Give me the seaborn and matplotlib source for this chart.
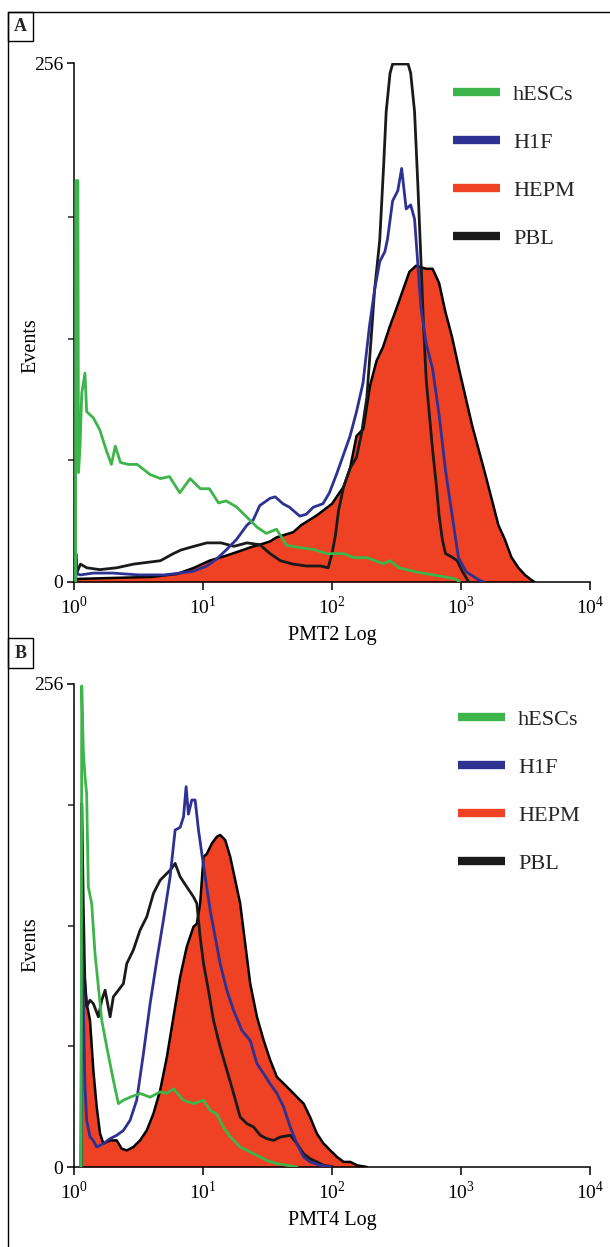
import numpy as np
import pandas as pd
import seaborn as sns
import matplotlib.pyplot as plt
from matplotlib.lines import Line2D
from matplotlib.patches import Rectangle

# Histogram traces: channel position as log10(intensity), value = events
# Panel A (PMT2)
a_hesc_log = [0.012, 0.015, 0.03, 0.035, 0.047, 0.06, 0.085, 0.098, 0.15, 0.2, 0.25, 0.29, 0.32, 0.36,
              0.42, 0.49, 0.59, 0.67, 0.74, 0.82, 0.9, 0.98, 1.05, 1.12, 1.18, 1.26, 1.34, 1.42, 1.49,
              1.57, 1.65, 1.75, 1.86, 1.96, 2.09, 2.17, 2.27, 2.40, 2.45, 2.52, 2.65, 2.78, 2.88, 2.96, 2.99]
a_hesc_cnt = [0, 198, 198, 54, 67, 93, 103, 84, 81, 75, 65, 58, 67, 59,
              58, 58, 53, 51, 52, 44, 51, 46, 46, 39, 40, 37, 32, 27, 24,
              26, 18, 17, 16, 14, 14, 12, 12, 9, 10.5, 7, 5, 3.5, 2.5, 1.4, 0]

a_h1f_log = [0.012, 0.015, 0.025, 0.05, 0.15, 0.3, 0.5, 0.7, 0.82, 0.925, 1.03, 1.106, 1.18, 1.26,
             1.34, 1.39, 1.44, 1.52, 1.56, 1.62, 1.67, 1.75, 1.80, 1.855, 1.93, 1.98, 2.04, 2.09,
             2.14, 2.19, 2.24, 2.29, 2.33, 2.37, 2.41, 2.43, 2.47, 2.51, 2.54, 2.575, 2.61, 2.64,
             2.66, 2.69, 2.73, 2.78, 2.83, 2.88, 2.93, 2.98, 3.04, 3.09, 3.14, 3.18]
a_h1f_cnt = [0, 14, 4, 3.5, 4.4, 4.4, 3.5, 3.5, 4.4, 5.3, 7.9, 11.4, 15.8, 21,
             28, 30.7, 37.7, 41.3, 42, 38.6, 36.9, 32.5, 33.4, 36.9, 38.6, 44, 54, 63,
             72, 84, 98, 126, 144, 158, 163, 169, 188, 193, 204, 184, 186, 179,
             161.5, 135, 117.6, 105, 82.5, 55, 33.4, 12, 5, 3, 0.9, 0]

a_hepm_log = [0.012, 0.02, 0.3, 0.6, 0.8, 0.93, 1.05, 1.18, 1.31, 1.39, 1.44, 1.52, 1.57, 1.70,
              1.76, 1.885, 2.0, 2.09, 2.14, 2.19, 2.243, 2.294, 2.345, 2.396, 2.448, 2.5, 2.55, 2.6,
              2.652, 2.729, 2.78, 2.83, 2.88, 2.93, 2.985, 3.036, 3.087, 3.138, 3.19, 3.24, 3.29,
              3.34, 3.39, 3.445, 3.496, 3.547, 3.57]
a_hepm_cnt = [0, 1.5, 2, 2.5, 4, 7, 10.5, 13, 15.8, 17.6, 18.4, 20, 22, 24.6,
              28, 33, 38.6, 47, 56, 72, 75.5, 96.6, 109, 116, 126, 135, 144, 153,
              156, 154.5, 154.5, 147.5, 133, 121, 105, 91, 77, 65, 52.7, 40.4, 28,
              21, 12.3, 7, 3.5, 0.9, 0]

a_pbl_log = [0.012, 0.015, 0.05, 0.1, 0.2, 0.33, 0.46, 0.57, 0.67, 0.77, 0.83, 0.93, 1.03, 1.14,
             1.24, 1.34, 1.44, 1.52, 1.6, 1.7, 1.8, 1.91, 1.97, 2.0, 2.026, 2.05, 2.09, 2.14,
             2.19, 2.23, 2.27, 2.31, 2.33, 2.37, 2.40, 2.42, 2.45, 2.47, 2.59, 2.61, 2.64, 2.665,
             2.69, 2.71, 2.73, 2.755, 2.78, 2.81, 2.83, 2.855, 2.88, 2.93, 2.97, 3.01, 3.06]
a_pbl_cnt = [0, 3.5, 8.8, 7, 6.1, 7, 8.8, 9.7, 10.5, 14, 15.8, 17.6, 19.3, 19.3,
             17.6, 19.3, 18.4, 14, 10.5, 8.8, 7.9, 7.9, 7, 14, 22.8, 35, 47, 56,
             61.5, 73.7, 91, 126, 144, 168.6, 205, 232, 251, 255.5, 255.5, 251, 232, 196.6,
             158, 126, 100, 82.5, 65, 47, 33, 21, 14, 12.3, 10.5, 5.3, 0]

# Panel B (PMT4)
b_hesc_log = [0.055, 0.06, 0.072, 0.085, 0.098, 0.111, 0.137, 0.163, 0.189, 0.215, 0.254, 0.305,
              0.344, 0.383, 0.435, 0.512, 0.59, 0.668, 0.72, 0.771, 0.849, 0.926, 1.004, 1.056,
              1.107, 1.159, 1.211, 1.288, 1.366, 1.444, 1.495, 1.573, 1.65, 1.728]
b_hesc_cnt = [0, 255, 221, 207, 198, 148.5, 139.7, 113, 95.5, 77.8, 63.6, 46,
              33.6, 35.4, 37, 39, 37, 39.8, 39, 41.5, 35.4, 33.6, 35.4, 30,
              28, 21, 16, 10.6, 8, 5.3, 3.5, 1.8, 0.9, 0]

b_h1f_log = [0.055, 0.06, 0.072, 0.085, 0.098, 0.124, 0.15, 0.176, 0.228, 0.279, 0.331, 0.383,
             0.435, 0.486, 0.538, 0.59, 0.642, 0.693, 0.745, 0.784, 0.823, 0.849, 0.869, 0.887,
             0.913, 0.939, 0.965, 0.991, 1.017, 1.056, 1.094, 1.133, 1.185, 1.237, 1.301, 1.366,
             1.418, 1.47, 1.521, 1.573, 1.625, 1.677, 1.728, 1.78, 1.83, 1.91, 1.99]
b_h1f_cnt = [0, 118.5, 86.6, 42.4, 24.8, 16, 14, 10.6, 12.4, 15, 16.8, 19.4,
             24.8, 35.4, 60, 86.6, 109.6, 130.8, 153.8, 178.6, 180, 185.6, 201.6, 187,
             194.5, 194.5, 178.6, 166, 153.8, 136, 122, 107.8, 93.7, 83, 72.5, 67,
             54.8, 49.5, 44, 39, 31.8, 21, 12.4, 5.3, 2.7, 0.9, 0]

b_hepm_log = [0.055, 0.06, 0.085, 0.098, 0.124, 0.15, 0.176, 0.202, 0.228, 0.279, 0.331, 0.37,
              0.409, 0.46, 0.512, 0.564, 0.616, 0.668, 0.72, 0.771, 0.823, 0.874, 0.926, 0.952,
              0.978, 1.004, 1.03, 1.069, 1.107, 1.133, 1.172, 1.211, 1.25, 1.288, 1.327, 1.366,
              1.418, 1.47, 1.521, 1.573, 1.625, 1.677, 1.728, 1.78, 1.83, 1.883, 1.935, 1.987,
              2.039, 2.09, 2.142, 2.194, 2.272]
b_hepm_cnt = [0, 99, 99, 86.6, 77.8, 51.3, 31.8, 17.7, 12.4, 14.1, 14.1, 9.7,
              8.8, 10.6, 14.1, 19.4, 28.3, 40.7, 58.3, 79.6, 100.8, 116.7, 127.3, 129,
              139.7, 164.4, 166, 171.5, 175, 176, 173.3, 164.4, 152, 139.7, 118.5, 97.2,
              79.6, 67.2, 56.6, 47.7, 44.2, 40.7, 37.1, 33.6, 26.5, 17.7, 12.4, 8.8,
              5.3, 2.7, 2.7, 0.9, 0]

b_pbl_log = [0.055, 0.06, 0.072, 0.085, 0.098, 0.124, 0.15, 0.189, 0.215, 0.241, 0.28, 0.305,
             0.344, 0.383, 0.409, 0.46, 0.512, 0.564, 0.616, 0.668, 0.72, 0.745, 0.784, 0.823,
             0.874, 0.926, 0.952, 0.978, 1.004, 1.042, 1.081, 1.133, 1.185, 1.237, 1.288, 1.34,
             1.392, 1.444, 1.495, 1.547, 1.599, 1.677, 1.728, 1.78, 1.83, 1.883, 1.935, 2.013]
b_pbl_cnt = [0, 192.7, 139.7, 95.5, 85, 88.4, 86.6, 79.6, 88.4, 93.7, 79.6, 90.2,
             93.7, 97.2, 107.8, 115, 125.5, 132.6, 145, 152, 155.6, 157.3, 160.9, 153.8,
             148.5, 143.2, 139.7, 122, 107.8, 93.7, 77.8, 63.6, 51.3, 39, 26.5, 23,
             21.2, 16.8, 15, 14.1, 15.9, 16.8, 12.4, 7, 4.4, 2.7, 0.9, 0]

series_names = ['hESCs', 'H1F', 'HEPM', 'PBL']
series_colors = ['#3db54a', '#2e3192', '#ef4123', '#1a1a1a']
x_ticks = [1, 10, 100, 1000, 10000]
x_tick_labels = ['10$^{0}$', '10$^{1}$', '10$^{2}$', '10$^{3}$', '10$^{4}$']

sns.set_theme(style='ticks')
plt.rcParams['font.family'] = ['Liberation Serif', 'DejaVu Serif']
plt.rcParams['mathtext.fontset'] = 'custom'
plt.rcParams['mathtext.rm'] = 'Liberation Serif'

W, H = 610, 1247
fig = plt.figure(figsize=(W / 100, H / 100), dpi=100)
AX_L, AX_R = 74, 590


def draw_panel(top, bottom, hesc, h1f, hepm, pbl, minor_ticks, xlabel, ylab_y, leg_x, leg_top):
    ax = fig.add_axes([AX_L / W, 1 - bottom / H, (AX_R - AX_L) / W, (bottom - top) / H])
    aw, ah = AX_R - AX_L, bottom - top
    green, blue, red, black = series_colors
    hx = 10 ** np.array(hepm[0])
    ax.fill_between(hx, hepm[1], 0, color=red, lw=0, zorder=1)
    sns.lineplot(x=hx, y=hepm[1], ax=ax, color='black', lw=1.8, sort=False, estimator=None, zorder=2)
    for (lg, cnt), col in [(pbl, black), (h1f, blue), (hesc, green)]:
        sns.lineplot(x=10 ** np.array(lg), y=cnt, ax=ax, color=col, lw=2.0,
                     sort=False, estimator=None, zorder=3)
    ax.set_xscale('log')
    ax.set_xlim(1, 10000)
    ax.set_ylim(0, 256)
    ax.set_xticks(x_ticks)
    ax.set_xticklabels(x_tick_labels)
    ax.xaxis.set_minor_locator(plt.NullLocator())
    ax.set_yticks([0, 256])
    ax.set_yticklabels(['0', '256'])
    ax.set_yticks(minor_ticks, minor=True)
    ax.tick_params(axis='x', which='major', direction='out', length=6, width=1.1,
                   labelsize=14, pad=4, colors='black')
    ax.tick_params(axis='y', which='major', direction='out', length=5, width=1.1,
                   labelsize=14, pad=3, colors='black')
    ax.tick_params(axis='y', which='minor', direction='out', length=4, width=1.1)
    for s in ['top', 'right']:
        ax.spines[s].set_visible(False)
    for s in ['left', 'bottom']:
        ax.spines[s].set_linewidth(1.1)
        ax.spines[s].set_color('black')
    ax.set_xlabel(xlabel, fontsize=14.5, color='black')
    ax.set_ylabel('Events', fontsize=14.5, color='black')
    ax.xaxis.set_label_coords(0.5, -44 / ah)
    ax.yaxis.set_label_coords((40 - AX_L) / aw, (bottom - ylab_y) / ah)
    handles = [Line2D([], [], color=c, lw=6, solid_capstyle='butt') for c in series_colors]
    ax.legend(handles, series_names, loc='upper left',
              bbox_to_anchor=((leg_x - 11 - AX_L) / aw, 1 - (leg_top - top) / ah),
              frameon=False, fontsize=16, handlelength=2.1, handletextpad=0.6,
              labelspacing=1.24, borderpad=0)
    return ax


draw_panel(63, 582, (a_hesc_log, a_hesc_cnt), (a_h1f_log, a_h1f_cnt), (a_hepm_log, a_hepm_cnt),
           (a_pbl_log, a_pbl_cnt), [60, 120, 180], 'PMT2 Log', 346, 453, 73)
draw_panel(684, 1167, (b_hesc_log, b_hesc_cnt), (b_h1f_log, b_h1f_cnt), (b_hepm_log, b_hepm_cnt),
           (b_pbl_log, b_pbl_cnt), [64, 128, 192], 'PMT4 Log', 945, 458, 698)

# outer frame and panel letters
fig.add_artist(Line2D([8 / W, 8 / W], [0, 1 - 12 / H], transform=fig.transFigure, color='black', lw=1))
fig.add_artist(Line2D([8 / W, 1], [1 - 12 / H, 1 - 12 / H], transform=fig.transFigure, color='black', lw=1))
for letter, top, bottom in [('A', 12, 41), ('B', 638, 668)]:
    fig.add_artist(Rectangle((8 / W, 1 - bottom / H), 25 / W, (bottom - top) / H,
                             transform=fig.transFigure, fill=False, edgecolor='black', lw=1))
    fig.text(20.5 / W, 1 - (top + bottom) / 2 / H, letter, ha='center', va='center',
             fontsize=13, fontweight='bold')

fig.savefig('out.png', dpi=100)
